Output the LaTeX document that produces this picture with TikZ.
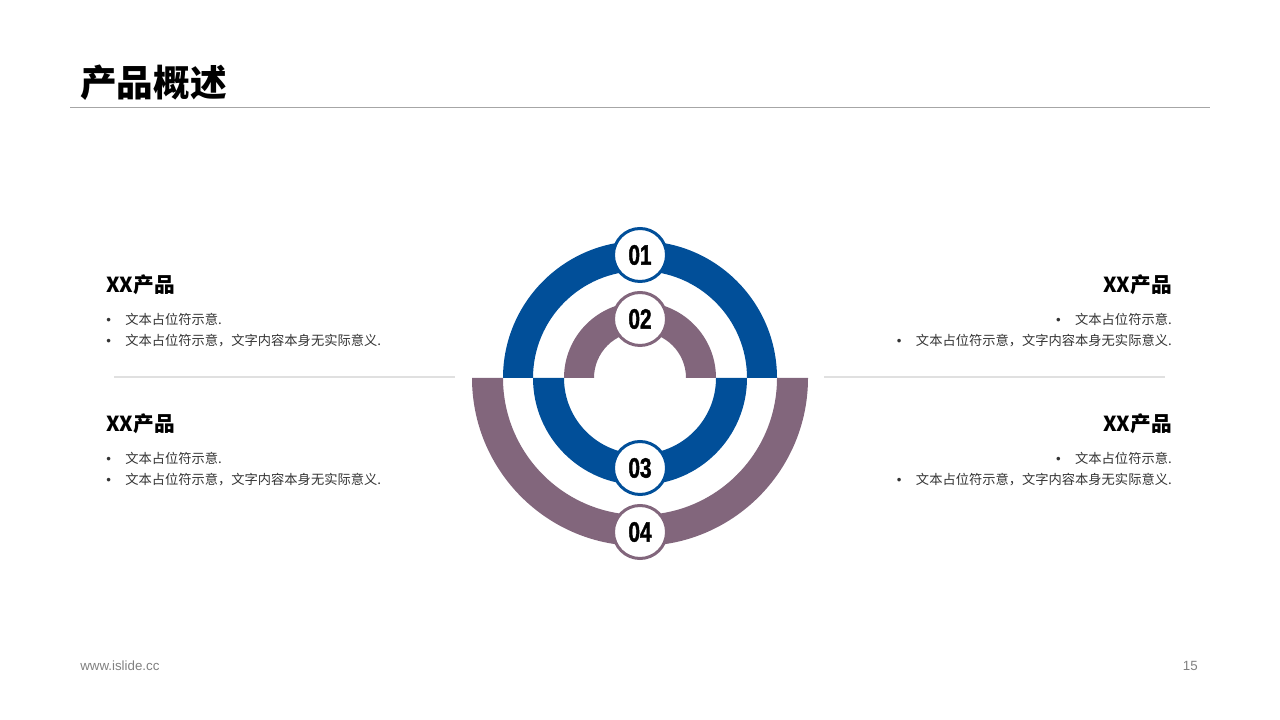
\documentclass[tikz,border=0pt]{standalone}
\usepackage{fontspec}
\setmainfont{Noto Sans CJK SC}
\newfontfamily\numfont[FakeStretch=0.74,FakeBold=1.5]{Liberation Sans}
\newfontfamily\webfont{Liberation Sans}
\usetikzlibrary{positioning}

\definecolor{ringblue}{HTML}{014F99}
\definecolor{ringmauve}{HTML}{82667C}
\definecolor{bodygray}{HTML}{333333}

\newcommand{\bitem}[1]{\makebox[14.25pt][l]{\webfont•}#1}

\tikzset{
  head/.style={inner sep=0pt,font=\fontsize{15.5}{18}\selectfont\bfseries},
  bul/.style={inner sep=0pt,text=bodygray,font=\fontsize{9.95}{12}\selectfont},
  numcirc/.style={circle,fill=white,line width=2.25pt,minimum size=39.75pt,
    inner sep=0pt,font=\numfont\fontsize{21}{24}\selectfont\bfseries}
}

\begin{document}
\begin{tikzpicture}[x=0.75pt,y=0.75pt]
  \useasboundingbox (0,0) rectangle (1280,720);

  % title
  \node[inner sep=0pt,anchor=west,font=\fontsize{27.5}{32}\selectfont\bfseries]
    (title) at (80,637) {产品概述};
  \coordinate (tl1) at (70,612);
  \coordinate (tl2) at (1210,612);
  \draw[color=black!35,line width=0.75pt] (tl1) -- (tl2);

  % rings
  \fill[ringblue] (503,342) arc[start angle=180,end angle=0,radius=137]
    -- (747,342) arc[start angle=0,end angle=180,radius=107] -- cycle;
  \fill[ringmauve] (564,342) arc[start angle=180,end angle=0,radius=76]
    -- (686,342) arc[start angle=0,end angle=180,radius=46] -- cycle;
  \fill[ringmauve] (472,342) arc[start angle=180,end angle=360,radius=168]
    -- (777,342) arc[start angle=360,end angle=180,radius=137] -- cycle;
  \fill[ringblue] (533,342) arc[start angle=180,end angle=360,radius=107]
    -- (716,342) arc[start angle=360,end angle=180,radius=76] -- cycle;

  \node[numcirc,draw=ringblue] (n1) at (640,465) {01};
  \node[numcirc,draw=ringmauve] (n2) at (640,401) {02};
  \node[numcirc,draw=ringblue] (n3) at (640,252) {03};
  \node[numcirc,draw=ringmauve] (n4) at (640,188) {04};

  % left texts
  \node[head,anchor=west] (lh1) at (106,435) {XX产品};
  \node[bul,below=25.5pt of lh1.west,anchor=west] (lb1) {\bitem{文本占位符示意.}};
  \node[bul,below=16.5pt of lb1.west,anchor=west] (lb2) {\bitem{文本占位符示意，文字内容本身无实际意义.}};
  \node[head,anchor=west] (lh2) at (106,296) {XX产品};
  \node[bul,below=25.5pt of lh2.west,anchor=west] (lb3) {\bitem{文本占位符示意.}};
  \node[bul,below=16.5pt of lb3.west,anchor=west] (lb4) {\bitem{文本占位符示意，文字内容本身无实际意义.}};

  % right texts
  \node[head,anchor=east] (rh1) at (1172,435) {XX产品};
  \node[bul,below=25.5pt of rh1.east,anchor=east] (rb1) {\bitem{文本占位符示意.}};
  \node[bul,below=16.5pt of rb1.east,anchor=east] (rb2) {\bitem{文本占位符示意，文字内容本身无实际意义.}};
  \node[head,anchor=east] (rh2) at (1172,296) {XX产品};
  \node[bul,below=25.5pt of rh2.east,anchor=east] (rb3) {\bitem{文本占位符示意.}};
  \node[bul,below=16.5pt of rb3.east,anchor=east] (rb4) {\bitem{文本占位符示意，文字内容本身无实际意义.}};

  % separators
  \coordinate (ls1) at (114,343);
  \coordinate (ls2) at (455,343);
  \coordinate (rs1) at (824,343);
  \coordinate (rs2) at (1165,343);
  \draw[color=black!12,line width=0.9pt] (ls1) -- (ls2);
  \draw[color=black!12,line width=0.9pt] (rs1) -- (rs2);

  % footer
  \node[inner sep=0pt,anchor=west,text=black!50,font=\webfont\fontsize{10}{12}\selectfont]
    (web) at (80,54) {www.islide.cc};
  \node[inner sep=0pt,anchor=east,text=black!50,font=\webfont\fontsize{10}{12}\selectfont]
    (page) at (1198,54) {15};
\end{tikzpicture}
\end{document}
